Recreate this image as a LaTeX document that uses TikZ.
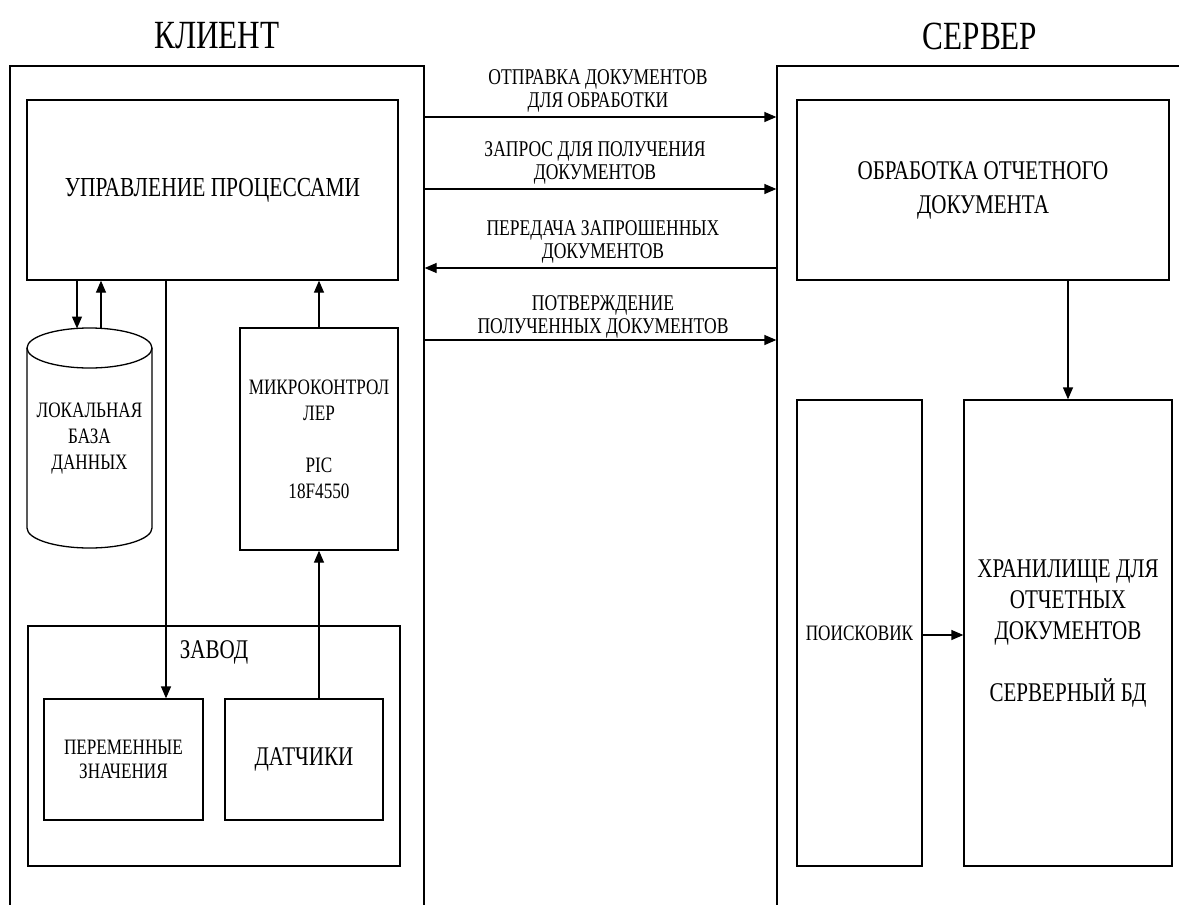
\documentclass[tikz,border=0pt]{standalone}
\usepackage{fontspec}
\setmainfont{Liberation Serif}[FakeStretch=0.78]
\usetikzlibrary{arrows.meta}
\newcommand\myfs[2]{\fontsize{#1}{#2}\selectfont}
\tikzset{
  box/.style={draw, line width=1.3pt, rectangle, inner sep=0pt, align=center},
  arr/.style={line width=1.3pt, -{Triangle[length=12pt,width=10pt]}},
  lbl/.style={align=center, inner sep=0pt, font=\myfs{22.5}{23}},
}
\begin{document}
\begin{tikzpicture}[x=1pt,y=-1pt]
\useasboundingbox (0,0) rectangle (1179,905);
\clip (0,0) rectangle (1179,905);
\fill[white] (0,0) rectangle (1179,905);
% titles
\node[font=\myfs{40}{44}] (tc) at (217,36) {КЛИЕНТ};
\node[font=\myfs{40}{44}] (ts) at (980,36) {СЕРВЕР};
% outer frames
\node[box, minimum width=414pt, minimum height=894pt] (client) at (217,513) {};
\node[box, minimum width=483pt, minimum height=894pt] (server) at (1018.5,513) {};
% client side
\node[box, minimum width=371pt, minimum height=180pt, font=\myfs{27.5}{30}] (control) at (212.5,190) {УПРАВЛЕНИЕ ПРОЦЕССАМИ};
\node[box, minimum width=158pt, minimum height=222pt, font=\myfs{22}{26}] (micro) at (319,439) {МИКРОКОНТРОЛ\\ЛЕР\\[26pt]PIC\\18F4550};
\node[box, minimum width=372pt, minimum height=240pt] (zavod) at (214,746) {};
\node[font=\myfs{27}{30}, inner sep=0pt] (zavodl) at (214,652) {ЗАВОД};
\node[box, minimum width=159pt, minimum height=121pt, font=\myfs{22}{24}] (perem) at (123.5,759.5) {ПЕРЕМЕННЫЕ\\ЗНАЧЕНИЯ};
\node[box, minimum width=158pt, minimum height=121pt, font=\myfs{27}{30}] (datch) at (304,759.5) {ДАТЧИКИ};
% cylinder (local DB)
\draw[line width=1.3pt, fill=white] (27,348) -- (27,528) arc[start angle=180, end angle=360, x radius=62.5, y radius=-20] -- (152,348);
\draw[line width=1.3pt] (89.5,348) ellipse[x radius=62.5, y radius=20];
\node[align=center, inner sep=0pt, font=\myfs{22}{26}] (db) at (89.5,439) {ЛОКАЛЬНАЯ\\БАЗА\\ДАННЫХ};
\coordinate (dbA) at (77,328.5);
\coordinate (dbB) at (101,328.5);
\coordinate (vx) at (166,0);
% server side
\node[box, minimum width=372pt, minimum height=180pt, font=\myfs{27}{34}] (obrab) at (983,190) {ОБРАБОТКА ОТЧЕТНОГО\\ДОКУМЕНТА};
\node[box, minimum width=125pt, minimum height=466pt, font=\myfs{22}{24}] (poisk) at (859.5,633) {ПОИСКОВИК};
\node[box, minimum width=208pt, minimum height=466pt, font=\myfs{27}{31}] (hran) at (1068,633) {ХРАНИЛИЩЕ ДЛЯ\\ОТЧЕТНЫХ\\ДОКУМЕНТОВ\\[31pt]СЕРВЕРНЫЙ БД};
% connectors client internal
\draw[arr] (control.south -| dbA) -- (dbA);
\draw[arr] (dbB) -- (control.south -| dbB);
\draw[arr] (control.south -| vx) -- (perem.north -| vx);
\draw[arr] (micro.north) -- (control.south -| micro.north);
\draw[arr] (datch.north -| micro.south) -- (micro.south);
% server internal
\draw[arr] (obrab.south -| hran.north) -- (hran.north);
\draw[arr] (poisk.east |- 0,635) -- (hran.west |- 0,635);
% between client and server
\coordinate (a1) at (0,117);
\coordinate (a2) at (0,189);
\coordinate (a3) at (0,268);
\coordinate (a4) at (0,340);
\draw[arr] (client.east |- a1) -- (server.west |- a1);
\draw[arr] (client.east |- a2) -- (server.west |- a2);
\draw[arr] (server.west |- a3) -- (client.east |- a3);
\draw[arr] (client.east |- a4) -- (server.west |- a4);
\node[lbl] (l1) at (598,91) {ОТПРАВКА ДОКУМЕНТОВ\\ДЛЯ ОБРАБОТКИ};
\node[lbl] (l2) at (595,163) {ЗАПРОС ДЛЯ ПОЛУЧЕНИЯ\\ДОКУМЕНТОВ};
\node[lbl] (l3) at (603,242) {ПЕРЕДАЧА ЗАПРОШЕННЫХ\\ДОКУМЕНТОВ};
\node[lbl] (l4) at (603,317) {ПОТВЕРЖДЕНИЕ\\ПОЛУЧЕННЫХ ДОКУМЕНТОВ};
\end{tikzpicture}
\end{document}
